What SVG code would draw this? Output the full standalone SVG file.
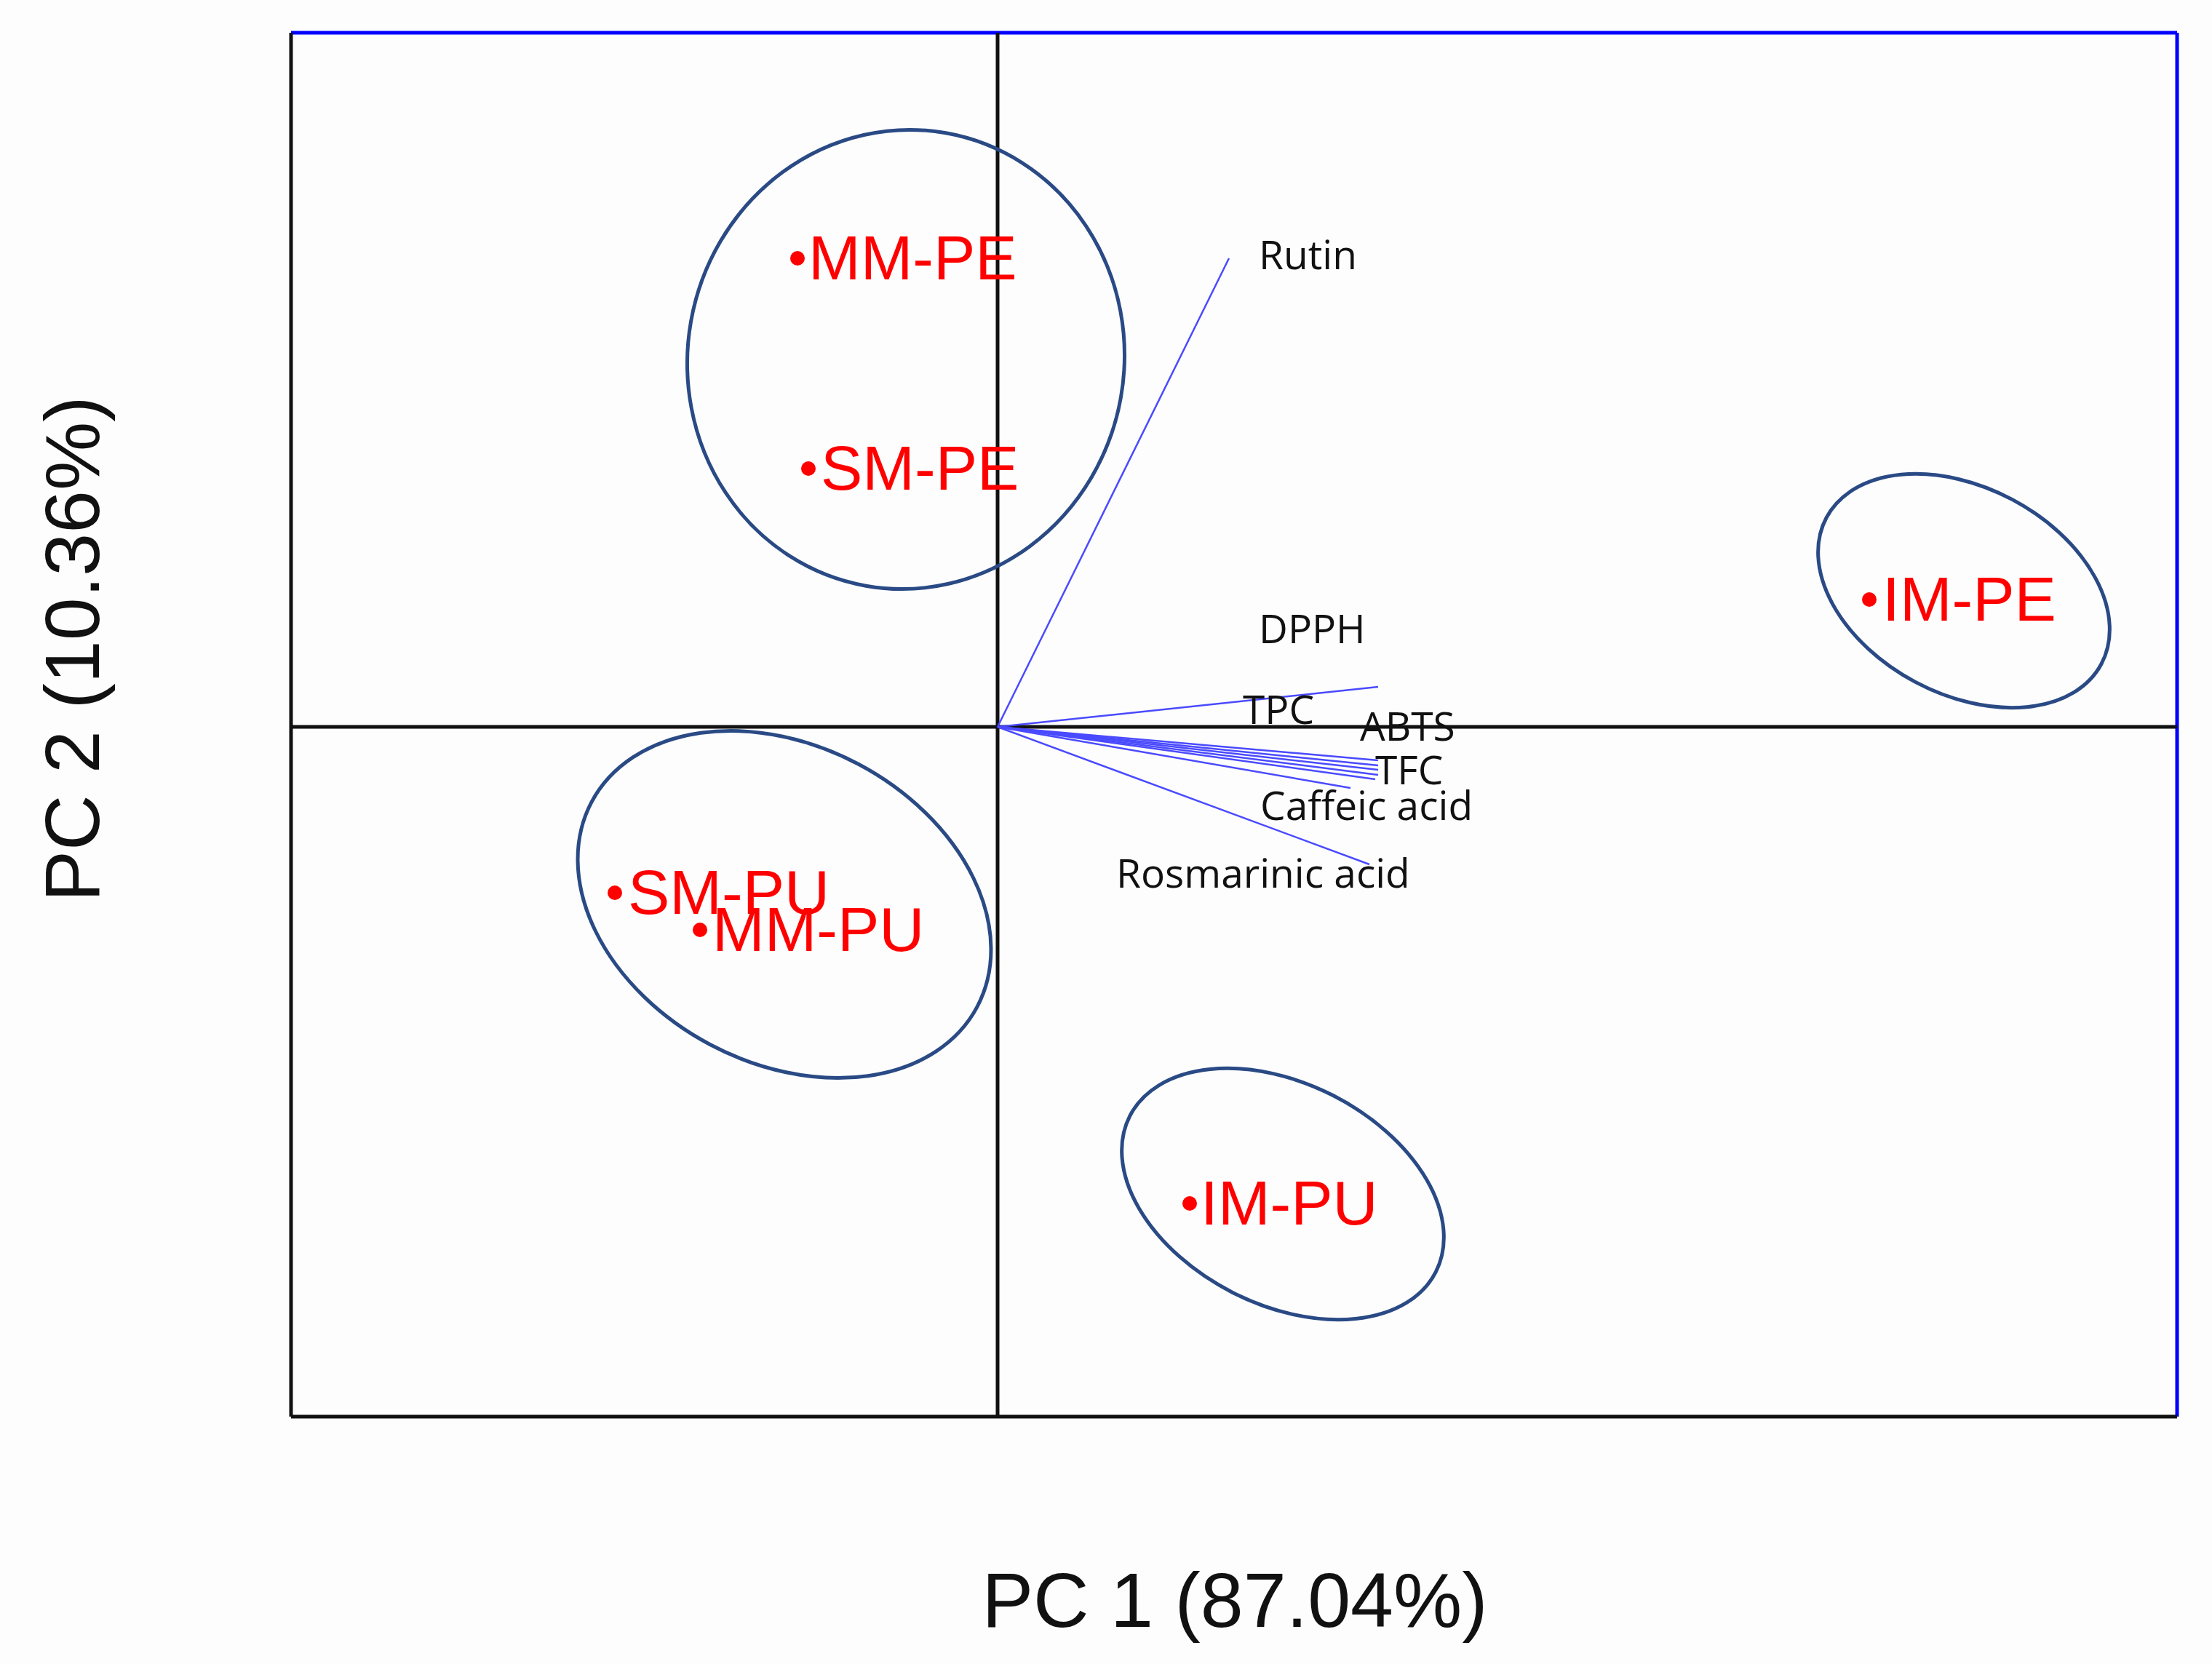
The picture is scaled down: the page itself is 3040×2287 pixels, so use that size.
<svg xmlns="http://www.w3.org/2000/svg" width="3040" height="2287" viewBox="0 0 3040 2287">
<style>
.v{stroke:#4a4aff;stroke-width:2.5;fill:none}
.vl{font-family:"Open Sans","DejaVu Sans",sans-serif;font-size:55px;fill:#111}
.s{font-family:"Liberation Sans",Arial,sans-serif;font-size:86px;fill:#f00}
.e{fill:none;stroke:#2a4a85;stroke-width:5}
.ax{font-family:"Liberation Sans",Arial,sans-serif;font-size:106px;fill:#111}
</style>
<rect width="3040" height="2287" fill="#fdfdfd"/>
<g id="frame">
<line x1="400" y1="45" x2="2992" y2="45" stroke="#0000ff" stroke-width="5"/>
<line x1="2992" y1="45" x2="2992" y2="1947" stroke="#0000ff" stroke-width="5"/>
<line x1="400" y1="45" x2="400" y2="1947" stroke="#111" stroke-width="5"/>
<line x1="400" y1="1947" x2="2992" y2="1947" stroke="#111" stroke-width="5"/>
<line x1="1371" y1="45" x2="1371" y2="1947" stroke="#111" stroke-width="5"/>
<line x1="400" y1="999" x2="2992" y2="999" stroke="#111" stroke-width="5"/>
</g>
<g id="connectors">
<line class="v" x1="1371" y1="999" x2="1689" y2="355"/>
<line class="v" x1="1371" y1="999" x2="1894" y2="944"/>
<line class="v" x1="1371" y1="999" x2="1894" y2="1045"/>
<line class="v" x1="1371" y1="999" x2="1894" y2="1052"/>
<line class="v" x1="1371" y1="999" x2="1894" y2="1058"/>
<line class="v" x1="1371" y1="999" x2="1894" y2="1065"/>
<line class="v" x1="1371" y1="999" x2="1890" y2="1071"/>
<line class="v" x1="1371" y1="999" x2="1856" y2="1083"/>
<line class="v" x1="1371" y1="999" x2="1882" y2="1188"/>
</g>
<g id="varlabels">
<text class="vl" x="1730" y="370">Rutin</text>
<text class="vl" x="1730" y="884">DPPH</text>
<text class="vl" x="1708" y="995">TPC</text>
<text class="vl" x="1869" y="1018">ABTS</text>
<text class="vl" x="1890" y="1078">TFC</text>
<text class="vl" x="1732" y="1127">Caffeic acid</text>
<text class="vl" x="1534" y="1220">Rosmarinic acid</text>
</g>
<g id="ellipses">
<ellipse class="e" cx="1245" cy="494" rx="300" ry="316" transform="rotate(10 1245 494)"/>
<ellipse class="e" cx="1078" cy="1243" rx="300" ry="218" transform="rotate(28 1078 1243)"/>
<ellipse class="e" cx="2699" cy="812" rx="214" ry="142" transform="rotate(28 2699 812)"/>
<ellipse class="e" cx="1763" cy="1641" rx="236" ry="152" transform="rotate(27 1763 1641)"/>
</g>
<g id="samples" fill="#f00">
<g id="MM-PE"><circle cx="1096" cy="355" r="10"/><text class="s" x="1111" y="384">MM-PE</text></g>
<g id="SM-PE"><circle cx="1111" cy="644" r="10"/><text class="s" x="1128" y="673">SM-PE</text></g>
<g id="IM-PE"><circle cx="2569" cy="824" r="10"/><text class="s" x="2587" y="853">IM-PE</text></g>
<g id="SM-PU"><circle cx="845" cy="1227" r="10"/><text class="s" x="863" y="1256">SM-PU</text></g>
<g id="MM-PU"><circle cx="962" cy="1278" r="10"/><text class="s" x="979" y="1307">MM-PU</text></g>
<g id="IM-PU"><circle cx="1635" cy="1654" r="10"/><text class="s" x="1650" y="1683">IM-PU</text></g>
</g>
<g id="axes-titles">
<text class="ax" x="1697" y="2236" text-anchor="middle">PC 1 (87.04%)</text>
<text class="ax" x="0" y="0" text-anchor="middle" transform="translate(136 892) rotate(-90)">PC 2 (10.36%)</text>
</g>
</svg>
